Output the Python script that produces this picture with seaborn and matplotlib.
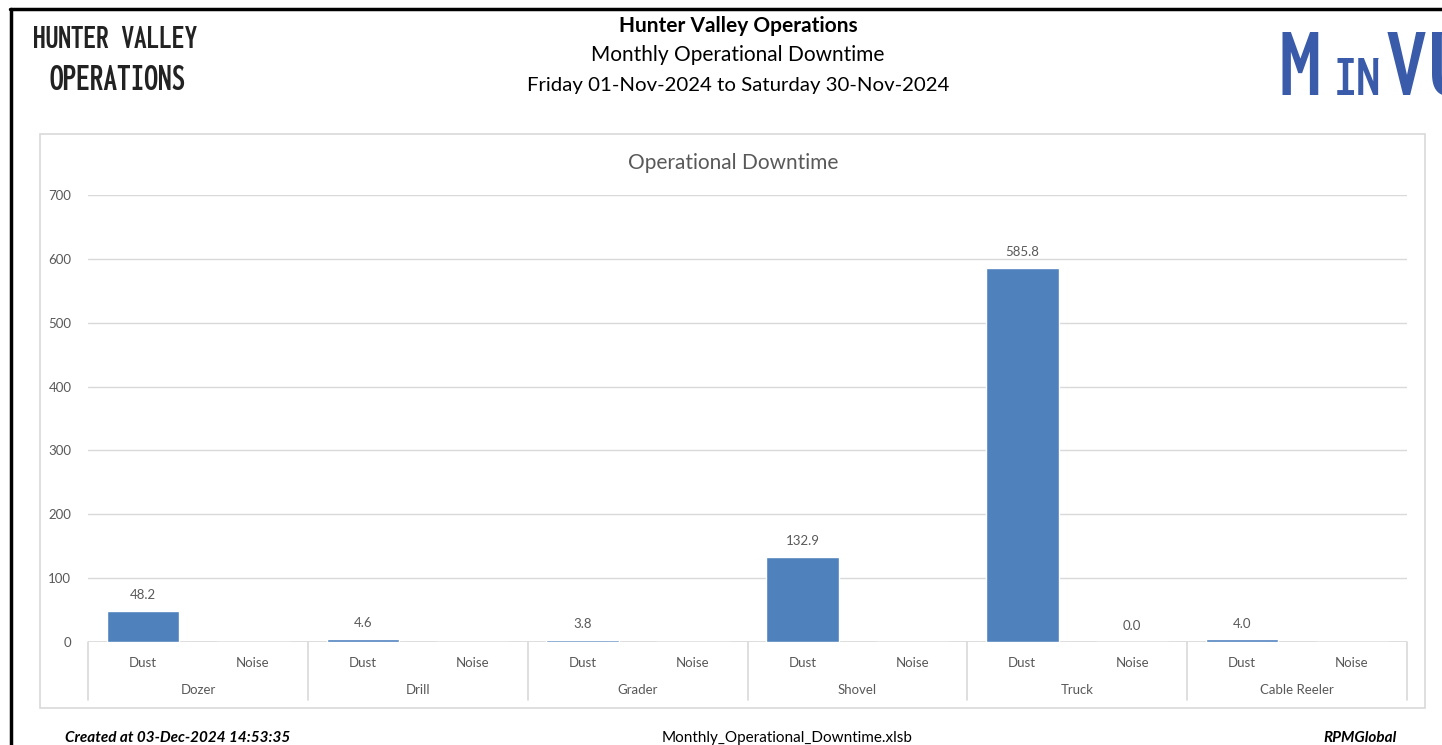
"""
Monthly operational downtime report chart (Hunter Valley Operations).
"""

import matplotlib.pyplot as plt
import matplotlib.transforms as mtransforms
from matplotlib import font_manager as fm
from matplotlib.patches import Rectangle
from matplotlib.lines import Line2D
import numpy as np
import pandas as pd
import seaborn as sns

# data
machines = ["Dozer", "Drill", "Grader", "Shovel", "Truck", "Cable Reeler"]
causes = ["Dust", "Noise"]
dust_hours = [48.2, 4.6, 3.8, 132.9, 585.8, 4.0]
noise_hours = [None, None, None, None, 0.0, None]
y_ticks = [0, 100, 200, 300, 400, 500, 600, 700]

header_title = "Hunter Valley Operations"
header_sub = "Monthly Operational Downtime"
header_range = "Friday 01-Nov-2024 to Saturday 30-Nov-2024"
chart_title = "Operational Downtime"
footer_left = "Created at 03-Dec-2024 14:53:35"
footer_mid = "Monthly_Operational_Downtime.xlsb"
footer_right = "RPMGlobal"

BAR_COLOR = "#4F81BD"
GRID_COLOR = "#D9D9D9"
TEXT_GRAY = "#595959"
W, H = 1442, 745

sns.set_theme(style="white")
plt.rcParams['font.family'] = ['Lato', 'DejaVu Sans']

UPRIGHT = [f.fname for f in fm.fontManager.ttflist
           if 'Italic' not in f.fname and 'Oblique' not in f.fname
           and 'Mono' not in f.fname and 'Serif' not in f.fname]


def find_face(keys, skip=()):
    """First upright sans face whose file name holds one of keys."""
    for key in keys:
        for name in UPRIGHT:
            if key in name and not any(s in name for s in skip):
                return fm.FontProperties(fname=name)
    return fm.FontProperties(family='Liberation Sans', weight='bold')


hv_fp = find_face(('ExtraCondensedBold', 'ExtraCondensed-Bold', 'CondensedBold',
                   'Condensed-Bold', 'Narrow-Bold'), skip=('Semi',))
mv_fp = find_face(('CondensedBold', 'Condensed-Bold', 'Narrow-Bold'),
                  skip=('Semi', 'Extra'))

rows = []
for m, d, n in zip(machines, dust_hours, noise_hours):
    rows.append({'slot': f"{m}|Dust", 'machine': m, 'cause': 'Dust', 'hours': d})
    rows.append({'slot': f"{m}|Noise", 'machine': m, 'cause': 'Noise', 'hours': n})
df = pd.DataFrame(rows)
df['bar'] = df['hours'].astype(float).fillna(0.0)
slots = list(df['slot'])

fig = plt.figure(figsize=(W / 100, H / 100), dpi=100)
renderer = fig.canvas.get_renderer()


def fx(px):
    return px / W


def fy(py):
    return 1 - py / H


def logo_text(base_fp, x, base, s, cap_px, max_w, color, ha='left'):
    """Place a logo word: cap height ~ cap_px, shrunk if wider than max_w."""
    fp = base_fp.copy()
    fp.set_size(cap_px)
    t = fig.text(fx(x), fy(base), s, ha=ha, va='baseline',
                 fontproperties=fp, color=color)
    w = t.get_window_extent(renderer).width
    if max_w is not None and w > max_w:
        fp.set_size(cap_px * max_w / w)
        t.set_fontproperties(fp)
    return t


# page border (top and left)
fig.add_artist(Line2D([fx(10), 1.0], [fy(9), fy(9)], transform=fig.transFigure,
                      color='black', linewidth=2.5))
fig.add_artist(Line2D([fx(11), fx(11)], [fy(9), 0.0], transform=fig.transFigure,
                      color='black', linewidth=2.5))

# chart area frame
fig.add_artist(Rectangle((fx(40), fy(708)), fx(1425) - fx(40), fy(134) - fy(708),
                         transform=fig.transFigure, fill=False,
                         edgecolor=GRID_COLOR, linewidth=1.2))

ax = fig.add_axes([fx(88), fy(642), fx(1407) - fx(88), fy(195) - fy(642)])
sns.barplot(data=df, x='slot', y='bar', order=slots, color=BAR_COLOR,
            saturation=1, width=0.66, errorbar=None, ax=ax, zorder=2)

ax.set_ylim(0, 700)
ax.set_xlim(-0.5, len(slots) - 0.5)
ax.set_yticks(y_ticks)
ax.set_yticklabels([str(t) for t in y_ticks])
ax.yaxis.grid(True, color=GRID_COLOR, linewidth=1.0)
ax.set_axisbelow(True)
for s in ax.spines.values():
    s.set_visible(False)
ax.axhline(0, color=GRID_COLOR, linewidth=1.2, zorder=1)
ax.tick_params(axis='y', length=0, pad=12, labelsize=9.5, labelcolor=TEXT_GRAY)
ax.tick_params(axis='x', length=0, pad=11, labelsize=9.5, labelcolor=TEXT_GRAY)
ax.set_xticks(range(len(slots)))
ax.set_xticklabels(list(df['cause']))
ax.set_xlabel('')
ax.set_ylabel('')

# value labels
for i, v in enumerate(df['hours']):
    if v is None or pd.isna(v):
        continue
    ax.annotate(f"{v:.1f}", (i, v), xytext=(0, 7), textcoords='offset points',
                ha='center', va='bottom', fontsize=9.5, color=TEXT_GRAY)

# group labels and separators
trans = mtransforms.blended_transform_factory(ax.transData, ax.transAxes)
axis_h = 642 - 195
for g, m in enumerate(machines):
    ax.text(2 * g + 0.5, -(690 - 642) / axis_h, m, transform=trans,
            ha='center', va='center', fontsize=9.5, color=TEXT_GRAY)
for b in np.arange(-0.5, len(slots), 2):
    ax.plot([b, b], [0, -(700 - 642) / axis_h], transform=trans, clip_on=False,
            color=GRID_COLOR, linewidth=1.2)

fig.text(fx(733), fy(163), chart_title, ha='center', va='center',
         fontsize=15, color=TEXT_GRAY)

# header
fig.text(fx(738), fy(26), header_title, ha='center', va='center',
         fontsize=15, fontweight='bold', color='black')
fig.text(fx(738), fy(55), header_sub, ha='center', va='center',
         fontsize=15, color='black')
fig.text(fx(738), fy(85), header_range, ha='center', va='center',
         fontsize=14.7, color='black')

# logos
logo_text(hv_fp, 33, 48, "HUNTER VALLEY", 26, 170, '#222222')
logo_text(hv_fp, 50, 90, "OPERATIONS", 28, 136, '#222222')

mv_color = '#3A5BA9'
logo_text(mv_fp, 1300, 95, "M", 73, 53, mv_color, ha='center')
logo_text(mv_fp, 1357, 95, "IN", 57, 47, mv_color, ha='center')
logo_text(mv_fp, 1406, 95, "V", 73, 42, mv_color, ha='center')
logo_text(mv_fp, 1429, 95, "U", 73, None, mv_color)

# footer
fig.text(fx(65), fy(738), footer_left, ha='left', va='center', fontsize=11,
         fontweight='bold', fontstyle='italic', color='black')
fig.text(fx(787), fy(738), footer_mid, ha='center', va='center', fontsize=11,
         color='black')
fig.text(fx(1397), fy(738), footer_right, ha='right', va='center', fontsize=11,
         fontweight='bold', fontstyle='italic', color='black')

fig.savefig('out.png', dpi=100)
plt.close(fig)
